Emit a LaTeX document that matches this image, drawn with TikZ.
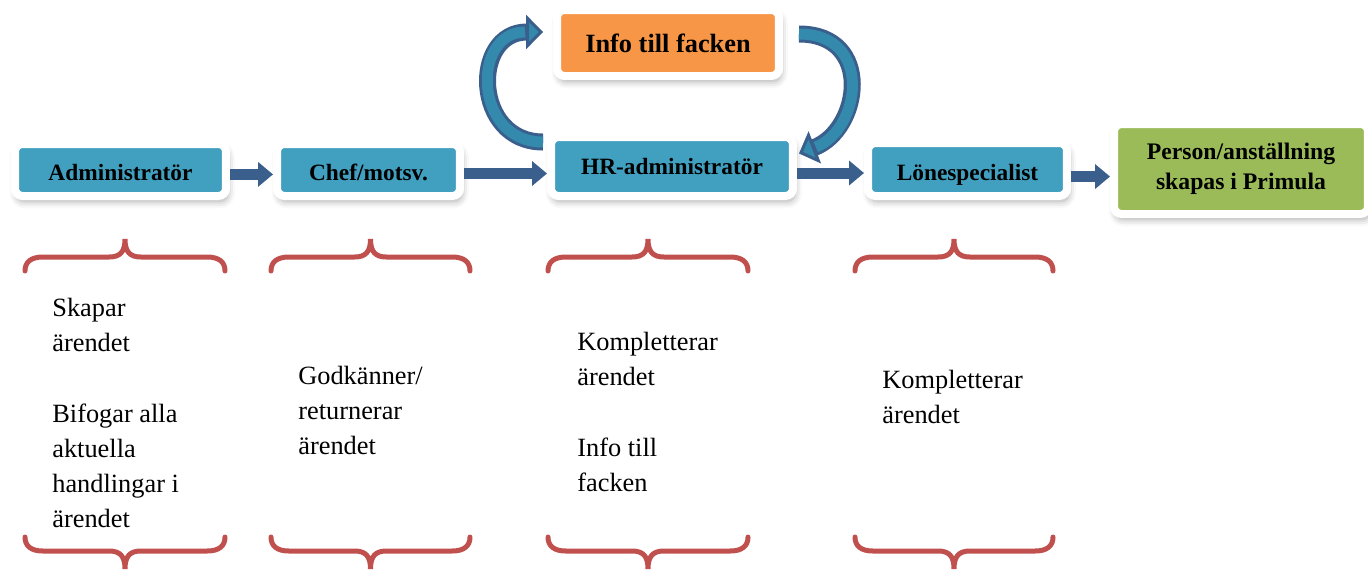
\documentclass[tikz,border=0pt]{standalone}
\usepackage{fontspec}
\setmainfont{Liberation Serif}
\usepackage{tikz}
\usepackage{xcolor}
\usetikzlibrary{shadows, shadows.blur}
\usetikzlibrary{calc}
\usetikzlibrary{positioning, arrows.meta}

\definecolor{boxblue}{RGB}{65,160,192}
\definecolor{boxorange}{RGB}{247,150,70}
\definecolor{boxgreen}{RGB}{155,187,89}
\definecolor{arrowblue}{RGB}{58,95,140}
\definecolor{loopfill}{RGB}{52,138,172}
\definecolor{bracered}{RGB}{192,80,77}

\begin{document}
\begin{tikzpicture}[x=0.02cm, y=-0.02cm]
    % Define the styles for boxes, arrows, braces and notes
    \tikzstyle{box}=[draw=white, line width=0.16cm, rounded corners=0.15cm, inner sep=0pt, align=center,
        font=\bfseries\fontsize{13.3}{16}\selectfont,
        blur shadow={shadow xshift=1pt, shadow yshift=-3pt, shadow blur radius=4pt, shadow opacity=35}];
    \tikzstyle{lowtext}=[text height=12.5pt, text depth=0pt];
    \tikzstyle{flow}=[draw=arrowblue, line width=0.22cm, -{Triangle[length=0.3cm, width=0.48cm]}];
    \tikzstyle{loopout}=[draw=arrowblue, line width=0.34cm, -{Triangle[length=0.34cm, width=0.68cm, fill=loopfill, line width=1.7pt]}];
    \tikzstyle{loopin}=[draw=loopfill, line width=0.22cm, shorten >=0.36cm];
    \tikzstyle{brace}=[draw=bracered, line width=0.1cm, line cap=round];
    \tikzstyle{note}=[anchor=north west, inner sep=0pt, align=left, font=\fontsize{15}{20}\selectfont];

    % Fix the margins
    \useasboundingbox (0,0) rectangle (1368,569);

    % Draw the boxes
    \node[box, lowtext, fill=boxblue, minimum width=4.22cm, minimum height=1.04cm] (adm) at (120.5,170) {Administratör};
    \node[box, lowtext, fill=boxblue, minimum width=3.66cm, minimum height=1.04cm] (chef) at (368.5,170) {Chef/motsv.};
    \node[box, fill=boxblue, minimum width=4.84cm, minimum height=1.18cm] (hr) at (672,166.5) {HR-administratör};
    \node[box, fill=boxorange, minimum width=4.44cm, minimum height=1.32cm,
        font=\bfseries\fontsize{15}{18}\selectfont] (info) at (668,43) {Info till facken};
    \node[box, lowtext, fill=boxblue, minimum width=3.98cm, minimum height=1.06cm] (lon) at (967.5,169.5) {Lönespecialist};
    \node[box, fill=boxgreen, minimum width=5.08cm, minimum height=1.8cm,
        font=\bfseries\fontsize{13.5}{17}\selectfont] (per) at (1241,169) {Person/anställning\\skapas i Primula};

    % Draw the arrows between the boxes
    \draw[flow] ([yshift=-2.5pt]adm.east) -- ([yshift=-2.5pt]chef.west);
    \draw[flow] ([yshift=-2pt]chef.east) -- ([yshift=-2pt]chef.east -| hr.west);
    \draw[flow] ([yshift=-2pt]hr.east |- lon.west) -- ([yshift=-2pt]lon.west);
    \draw[flow] ([yshift=-4pt]lon.east) -- ([yshift=-4pt]lon.east -| per.west);

    % Draw the loop to and from Info till facken
    \coordinate (l1) at ([shift={(-4,9)}]hr.north west);
    \coordinate (l2) at ([shift={(-10,-11)}]info.west);
    \coordinate (r1) at ([shift={(16,-9)}]info.east);
    \coordinate (r2) at ([shift={(2,-13)}]hr.east);
    \draw[loopout] (l1) .. controls +(-70,0) and +(-72,0) .. (l2);
    \draw[loopin] (l1) .. controls +(-70,0) and +(-72,0) .. (l2);
    \draw[loopout] (r1) .. controls +(75,0) and +(62,-24) .. (r2);
    \draw[loopin] (r1) .. controls +(75,0) and +(62,-24) .. (r2);

    % Draw the braces above and below each column
    \foreach \a/\b in {25/225, 271/470, 548/748, 855/1053} {
        \pgfmathsetmacro{\m}{(\a+\b)/2}
        \draw[brace] (\a,271) .. controls (\a,262) and (\a+6,257) .. (\a+18,257) -- (\m-16,257)
            .. controls (\m-5,257) and (\m,252) .. (\m,239) .. controls (\m,252) and (\m+5,257) .. (\m+16,257)
            -- (\b-18,257) .. controls (\b-6,257) and (\b,262) .. (\b,271);
        \draw[brace] (\a,537) .. controls (\a,546) and (\a+6,551) .. (\a+18,551) -- (\m-16,551)
            .. controls (\m-5,551) and (\m,556) .. (\m,569) .. controls (\m,556) and (\m+5,551) .. (\m+16,551)
            -- (\b-18,551) .. controls (\b-6,551) and (\b,546) .. (\b,537);
    }

    % Notes under the braces
    \node[note] (t1) at (52,298) {Skapar\\ärendet\\[20pt]Bifogar alla\\aktuella\\handlingar i\\ärendet};
    \node[note] (t2) at (298,366) {Godkänner/\\returnerar\\ärendet};
    \node[note] (t3) at (577,332) {Kompletterar\\ärendet\\[20pt]Info till\\facken};
    \node[note] (t4) at (882,370) {Kompletterar\\ärendet};

\end{tikzpicture}
\end{document}
